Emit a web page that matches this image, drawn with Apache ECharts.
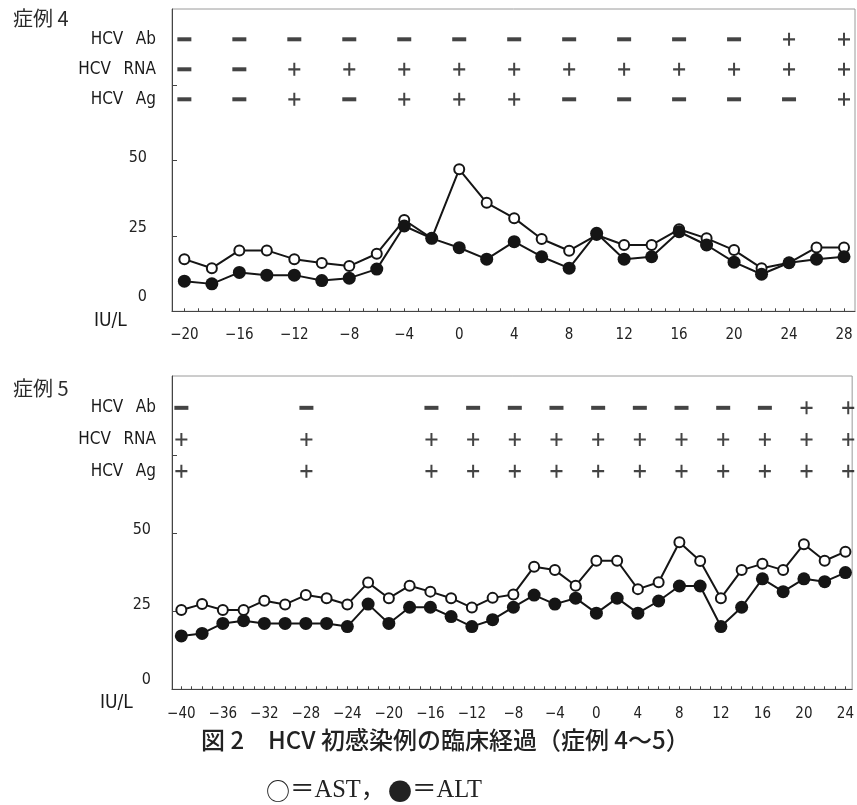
<!DOCTYPE html>
<html><head><meta charset="utf-8">
<script src="https://cdn.jsdelivr.net/npm/echarts@6/dist/echarts.min.js"></script>
<style>html,body{margin:0;padding:0;background:#fff}#c{width:857px;height:805px}</style>
</head><body><div id="c"></div>
<script>
// ---------- data ----------
const case4Days = [-20,-18,-16,-14,-12,-10,-8,-6,-4,-2,0,2,4,6,8,10,12,14,16,18,20,22,24,26,28];
const case4AST  = [17.3,14.3,20.2,20.2,17.3,16.0,15.0,19.1,30.3,24.2,47.1,36.0,30.9,24.0,20.1,25.3,22.0,22.0,27.2,24.2,20.3,14.3,16.1,21.2,21.2];
const case4ALT  = [10.0,9.1,12.9,12.0,12.0,10.2,11.0,14.0,28.3,24.2,21.1,17.3,23.1,18.1,14.3,25.9,17.3,18.1,26.4,22.0,16.3,12.3,16.1,17.3,18.1];

const case5Days = [-40,-38,-36,-34,-32,-30,-28,-26,-24,-22,-20,-18,-16,-14,-12,-10,-8,-6,-4,-2,0,2,4,6,8,10,12,14,16,18,20,22,24];
const case5AST  = [25.4,27.3,25.4,25.4,28.4,27.2,30.2,29.2,27.2,34.2,29.2,33.2,31.3,29.2,26.2,29.3,30.4,39.3,38.2,33.2,41.2,41.2,32.1,34.3,47.1,41.1,29.2,38.2,40.2,38.2,46.5,41.2,44.1];
const case5ALT  = [17.1,17.9,21.1,22.0,21.1,21.1,21.1,21.1,20.1,27.3,21.1,26.3,26.3,23.3,20.1,22.3,26.3,30.2,27.3,29.2,24.4,29.2,24.4,28.3,33.1,33.1,20.1,26.3,35.4,31.3,35.4,34.5,37.4];

const rowNames = ['HCV Ab','HCV RNA','HCV Ag'];
const case4MarkDays = [-20,-16,-12,-8,-4,0,4,8,12,16,20,24,28];
const case4Ab  = ['-','-','-','-','-','-','-','-','-','-','-','+','+'];
const case4RNA = ['-','-','+','+','+','+','+','+','+','+','+','+','+'];
const case4Ag  = ['-','-','+','-','+','+','+','-','-','-','-','-','+'];
const case5MarkDays = [-40,-28,-16,-12,-8,-4,0,4,8,12,16,20,24];
const case5Ab  = ['-','-','-','-','-','-','-','-','-','-','-','+','+'];
const case5RNA = ['+','+','+','+','+','+','+','+','+','+','+','+','+'];
const case5Ag  = ['+','+','+','+','+','+','+','+','+','+','+','+','+'];

const case4XLabels = [-20,-16,-12,-8,-4,0,4,8,12,16,20,24,28];
const case5XLabels = [-40,-36,-32,-28,-24,-20,-16,-12,-8,-4,0,4,8,12,16,20,24];
const yLabelValues = [0,25,50];
const yTickValues = [25,50,75];
const caseTitles = ['症例 4','症例 5'];
const unitLabel = 'IU/L';
const captionLine1 = '図 2\u3000HCV 初感染例の臨床経過（症例 4〜5）';
const legendAST = ['○', '＝AST，'];
const legendALT = ['●', '＝ALT'];

// ---------- styling ----------
const NARROW = '"Liberation Sans Narrow","DejaVu Sans Condensed","Arial Narrow","Noto Sans",sans-serif';
const CJK = '"Noto Sans CJK JP","Noto Sans CJK SC",sans-serif';
const SERIF = '"Liberation Serif","DejaVu Serif",serif';
const INK = '#151515';
const PLUS = 'path://M5,0H7V12H5Z M0,5H12V7H0Z';

function intRange(a, b) { const r = []; for (let v = a; v <= b; v++) r.push(v); return r; }
function pairs(xs, ys) { return xs.map((x, i) => [x, ys[i]]); }
function markData(days, rows) {
  const out = [];
  rows.forEach(([name, arr]) => arr.forEach((s, i) => {
    out.push({ value: [days[i], name], symbol: s === '+' ? PLUS : 'rect',
               symbolSize: s === '+' ? [12, 13] : [14, 4] });
  }));
  return out;
}
const minusFmt = v => String(v).replace('-', '\u2212');

function mainX(gi, min, max, labels, tickFrom, tickTo, margin) {
  return {
    gridIndex: gi, type: 'value', min, max,
    axisLine: { show: true, onZero: false, lineStyle: { color: '#444', width: 1 } },
    axisTick: { show: true, inside: true, length: 3, customValues: intRange(tickFrom, tickTo), lineStyle: { color: '#444' } },
    axisLabel: { customValues: labels, formatter: minusFmt, fontFamily: NARROW, fontSize: 15, color: '#222', margin },
    splitLine: { show: false }
  };
}
function markX(gi, min, max) {
  return { gridIndex: gi, type: 'value', min, max, show: false, splitLine: { show: false } };
}
function mainY(gi, max, pads, margin) {
  const rich = {};
  yLabelValues.forEach((v, i) => { rich['p' + v] = { padding: [0, 0, pads[i], 0], fontFamily: NARROW, fontSize: 16, color: '#222' }; });
  return {
    gridIndex: gi, type: 'value', min: 0, max,
    axisLine: { show: true, onZero: false, lineStyle: { color: '#444', width: 1 } },
    axisTick: { show: true, inside: true, length: 5, customValues: yTickValues, lineStyle: { color: '#444' } },
    axisLabel: { customValues: yLabelValues, formatter: v => '{p' + v + '|' + v + '}', rich, margin },
    splitLine: { show: false }
  };
}
function markY(gi) {
  return {
    gridIndex: gi, type: 'category', data: rowNames, inverse: true,
    axisLine: { show: false }, axisTick: { show: false }, splitLine: { show: false },
    axisLabel: { formatter: v => v.replace(' ', '\u2002 '), fontFamily: NARROW, fontSize: 17, color: '#1a1a1a', margin: 16 }
  };
}
function astSeries(xi, yi, data) {
  return { type: 'line', xAxisIndex: xi, yAxisIndex: yi, data, symbol: 'circle', symbolSize: 10,
    itemStyle: { color: '#fff', borderColor: INK, borderWidth: 2 },
    lineStyle: { color: INK, width: 2 }, z: 3, animation: false };
}
function altSeries(xi, yi, data) {
  return { type: 'line', xAxisIndex: xi, yAxisIndex: yi, data, symbol: 'circle', symbolSize: 13,
    itemStyle: { color: INK, borderWidth: 0 },
    lineStyle: { color: INK, width: 2 }, z: 4, animation: false };
}
function markSeries(xi, yi, data) {
  return { type: 'scatter', xAxisIndex: xi, yAxisIndex: yi, data, itemStyle: { color: INK }, animation: false };
}

const chart = echarts.init(document.getElementById('c'), null, { renderer: 'canvas' });
chart.setOption({
  backgroundColor: '#fff',
  animation: false,
  grid: [
    { left: 172, top: 9, width: 683, height: 302.3, show: true, borderColor: '#9a9a9a', borderWidth: 1 },
    { left: 172, top: 24.3, width: 683, height: 90, show: false },
    { left: 172, top: 376, width: 683, height: 313.3, show: true, borderColor: '#9a9a9a', borderWidth: 1 },
    { left: 172, top: 392, width: 683, height: 95, show: false }
  ],
  xAxis: [
    mainX(0, -20.9, 28.8, case4XLabels, -20, 28, 16),
    markX(1, -20.9, 28.8),
    mainX(2, -40.9, 24.65, case5XLabels, -40, 24, 17),
    markX(3, -40.9, 24.65)
  ],
  yAxis: [
    mainY(0, 100.3, [28, 16, 5], 25),
    markY(1),
    mainY(2, 100.4, [18, 12, 6], 21),
    markY(3)
  ],
  series: [
    astSeries(0, 0, pairs(case4Days, case4AST)),
    altSeries(0, 0, pairs(case4Days, case4ALT)),
    markSeries(1, 1, markData(case4MarkDays, [[rowNames[0], case4Ab], [rowNames[1], case4RNA], [rowNames[2], case4Ag]])),
    astSeries(2, 2, pairs(case5Days, case5AST)),
    altSeries(2, 2, pairs(case5Days, case5ALT)),
    markSeries(3, 3, markData(case5MarkDays, [[rowNames[0], case5Ab], [rowNames[1], case5RNA], [rowNames[2], case5Ag]]))
  ],
  graphic: [
    { type: 'text', x: 13, y: 18, style: { text: caseTitles[0], font: '20px ' + CJK, fill: '#2a2a2a', verticalAlign: 'middle' } },
    { type: 'text', x: 13, y: 388, style: { text: caseTitles[1], font: '20px ' + CJK, fill: '#2a2a2a', verticalAlign: 'middle' } },
    { type: 'text', x: 94, y: 321, style: { text: unitLabel, font: '19px ' + NARROW, fill: '#1a1a1a', verticalAlign: 'middle' } },
    { type: 'text', x: 100, y: 703, style: { text: unitLabel, font: '19px ' + NARROW, fill: '#1a1a1a', verticalAlign: 'middle' } },
    { type: 'text', x: 201, y: 740, style: { text: captionLine1, font: '500 24px ' + CJK, fill: '#222', verticalAlign: 'middle' } },
    { type: 'text', x: 266, y: 791, style: {
        text: '{c|' + legendAST[0] + '}{t|' + legendAST[1] + '}{s| }{c|' + legendALT[0] + '}{t|' + legendALT[1] + '}',
        verticalAlign: 'middle', fill: '#222',
        rich: {
          c: { fontFamily: CJK, fontSize: 24, fill: '#222' },
          t: { fontFamily: SERIF + ',' + CJK, fontSize: 24.5, fill: '#222' },
          s: { fontSize: 10 }
        } } }
  ]
});
</script>
</body></html>
